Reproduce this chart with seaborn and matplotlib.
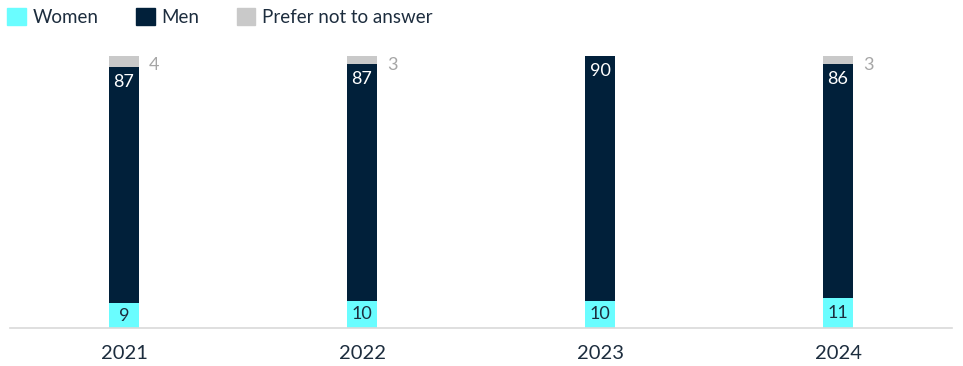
import matplotlib
matplotlib.use("Agg")
import matplotlib.pyplot as plt
from matplotlib.patches import Patch
import seaborn as sns
import pandas as pd
import numpy as np

years = ["2021", "2022", "2023", "2024"]
women = [9, 10, 10, 11]
men = [87, 87, 90, 86]
prefer_not = [4, 3, 0, 3]

C_WOMEN = "#6AFDFF"
C_MEN = "#01203A"
C_PNA = "#C9C9C9"
C_TEXT = "#1D2D3E"

sns.set_theme(style="white")
plt.rcParams["font.family"] = ["Lato", "DejaVu Sans"]

df = pd.DataFrame({"year": years, "women": women, "men": men, "pna": prefer_not})
df["wm"] = df["women"] + df["men"]
df["total"] = df["wm"] + df["pna"]

fig = plt.figure(figsize=(9.63, 3.66), dpi=100)
ax = fig.add_axes([0.0104, 0.104, 0.9782, 0.743])

bw = 0.13
# cumulative layers drawn back to front give the stacked look
sns.barplot(data=df, x="year", y="total", color=C_PNA, width=bw, ax=ax,
            saturation=1, linewidth=0)
sns.barplot(data=df, x="year", y="wm", color=C_MEN, width=bw, ax=ax,
            saturation=1, linewidth=0)
sns.barplot(data=df, x="year", y="women", color=C_WOMEN, width=bw, ax=ax,
            saturation=1, linewidth=0)

ax.set_xlim(-0.479, 3.479)
ax.set_ylim(0, 100)
ax.set_xlabel("")
ax.set_ylabel("")
ax.set_yticks([])
for s in ["top", "right", "left"]:
    ax.spines[s].set_visible(False)
ax.spines["bottom"].set_color("#D9D9D9")
ax.spines["bottom"].set_linewidth(1.2)
ax.tick_params(axis="x", length=0, pad=12, labelsize=14.5, labelcolor=C_TEXT)

for i, r in df.iterrows():
    ax.text(i, r["women"] / 2, f"{r['women']}", ha="center", va="center",
            fontsize=13, color=C_TEXT)
    ax.annotate(f"{r['men']}", xy=(i, r["wm"]), xytext=(0, -5),
                textcoords="offset points", ha="center", va="top",
                fontsize=13, color="white")
    if r["pna"] > 0:
        ax.annotate(f"{r['pna']}", xy=(i + bw / 2, r["total"]), xytext=(7, -1),
                    textcoords="offset points", ha="left", va="top",
                    fontsize=13, color="#A6A6A6")

handles = [Patch(color=C_WOMEN, label="Women"),
           Patch(color=C_MEN, label="Men"),
           Patch(color=C_PNA, label="Prefer not to answer")]
fig.legend(handles=handles, loc="upper left",
           bbox_to_anchor=(7 / 963, 1 - 8 / 366),
           ncol=3, frameon=False, fontsize=13.5, handlelength=1.0,
           handleheight=1.0, handletextpad=0.35, columnspacing=2.0,
           labelcolor=C_TEXT, borderaxespad=0, borderpad=0)

fig.savefig("out.png", dpi=100)
